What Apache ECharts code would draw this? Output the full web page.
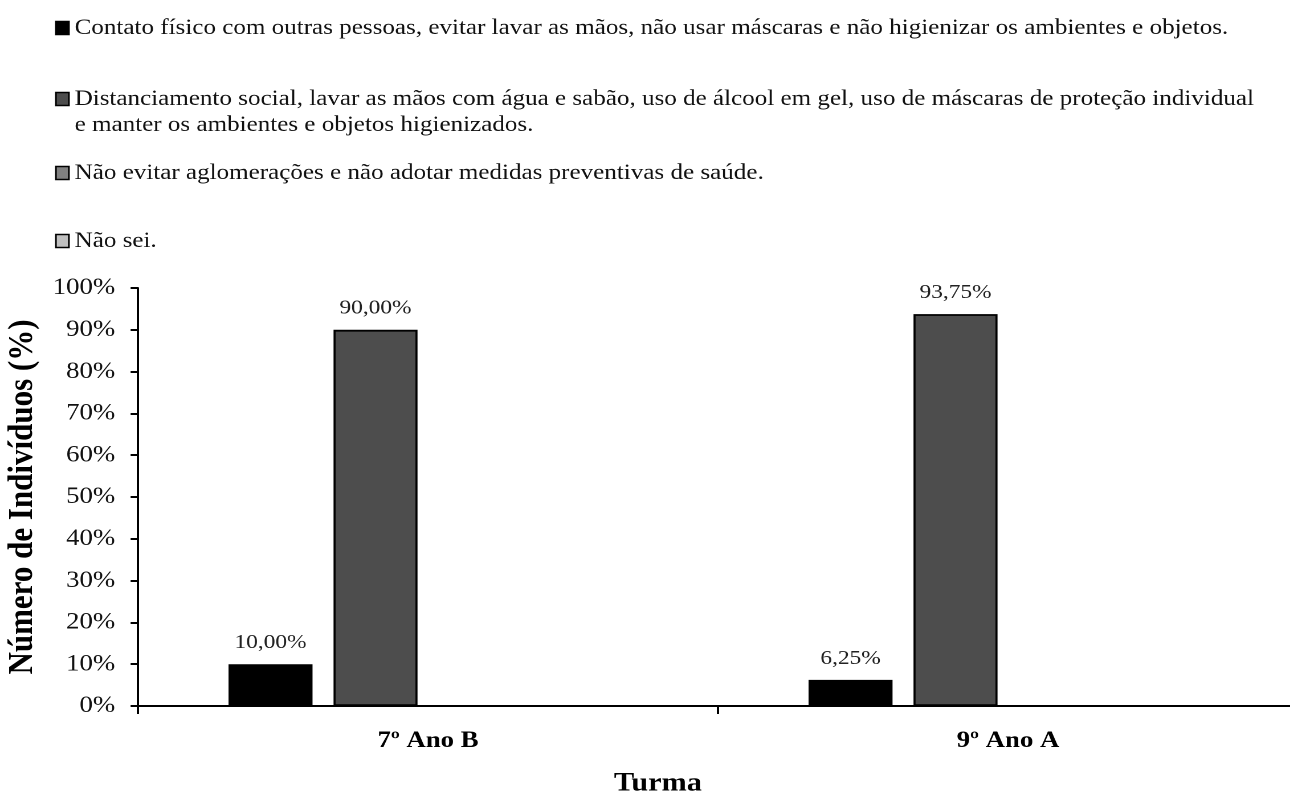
<!DOCTYPE html>
<html>
<head>
<meta charset="utf-8">
<script src="https://cdn.jsdelivr.net/npm/echarts@6/dist/echarts.min.js"></script>
<style>
  html, body { margin: 0; padding: 0; background: #fff; overflow: hidden; }
  /* the figure is drawn a little narrower and widened to the page width */
  #chart { width: 1132px; height: 797px; transform: scaleX(1.1396); transform-origin: 0 0; }
</style>
</head>
<body>
<div id="chart"></div>
<script>
// Turmas (categories on the x axis)
const turmas = ['7º Ano B', '9º Ano A'];

// Answer options (one bar series each)
const respostas = [
  'Contato físico com outras pessoas, evitar lavar as mãos, não usar máscaras e não higienizar os ambientes e objetos.',
  'Distanciamento social, lavar as mãos com água e sabão, uso de álcool em gel, uso de máscaras de proteção individual e manter os ambientes e objetos higienizados.',
  'Não evitar aglomerações e não adotar medidas preventivas de saúde.',
  'Não sei.'
];

// Percentage of students per answer, per turma
const contatoFisico = [10.00, 6.25];
const distanciamento = [90.00, 93.75];
const naoEvitar = [0, 0];
const naoSei = [0, 0];

// Y axis ticks (percent)
const yMin = 0, yMax = 100, yStep = 10;

const serieValues = [contatoFisico, distanciamento, naoEvitar, naoSei];
const fills = ['#000000', '#4d4d4d', '#808080', '#c0c0c0'];
const serif = '"Liberation Serif", "Times New Roman", serif';

const fmtPct = v => v.toFixed(2).replace('.', ',') + '%';

const series = serieValues.map((vals, i) => ({
  name: respostas[i],
  type: 'bar',
  data: vals,
  barWidth: 73.7,
  barGap: '25%',
  itemStyle: { color: fills[i], borderColor: '#000', borderWidth: 1.8 },
  label: {
    show: true,
    position: 'top',
    distance: 11,
    fontFamily: serif,
    fontSize: 20.5,
    color: '#222',
    formatter: p => (p.value > 0 ? fmtPct(p.value) : '')
  }
}));

// The second answer is long: break it in two lines, keeping the marker on the first one
const legendText = [
  '{name}',
  '\nDistanciamento social, lavar as mãos com água e sabão, uso de álcool em gel, uso de máscaras de proteção individual\ne manter os ambientes e objetos higienizados.',
  '{name}',
  '{name}'
];

// One legend block per answer so each sits at its own height
const legendTops = [15, 60, 160, 228];
const legends = respostas.map((name, i) => ({
  data: [name],
  orient: 'vertical',
  left: 48.3,
  top: legendTops[i],
  padding: 0,
  itemWidth: 11.4,
  itemHeight: 13,
  icon: 'rect',
  selectedMode: false,
  itemStyle: { borderColor: '#000', borderWidth: 1.5 },
  formatter: legendText[i],
  textStyle: { fontFamily: serif, fontSize: 22, color: '#111', lineHeight: 26 }
}));

const chart = echarts.init(document.getElementById('chart'), null, { renderer: 'canvas', devicePixelRatio: 2 });
chart.setOption({
  backgroundColor: '#fff',
  animation: false,
  legend: legends,
  grid: { left: 121.1, top: 288, width: 1017.9, height: 418, outerBoundsMode: 'none' },
  xAxis: {
    type: 'category',
    data: turmas,
    axisLine: { lineStyle: { color: '#000', width: 2 } },
    axisTick: { show: true, length: 8, lineStyle: { color: '#000', width: 2 } },
    axisLabel: {
      fontFamily: serif, fontSize: 23.5, fontWeight: 'bold', color: '#000', margin: 23
    }
  },
  yAxis: {
    type: 'value',
    min: yMin, max: yMax, interval: yStep,
    name: 'Número de Indivíduos (%)',
    nameLocation: 'middle',
    nameRotate: 90,
    nameGap: 77.5,
    nameTextStyle: { fontFamily: serif, fontSize: 31, fontWeight: 'bold', color: '#000' },
    axisLine: { show: true, lineStyle: { color: '#000', width: 2 } },
    axisTick: { show: true, length: 6.5, lineStyle: { color: '#000', width: 2 } },
    splitLine: { show: false },
    axisLabel: {
      fontFamily: serif, fontSize: 23.5, color: '#111', margin: 20,
      formatter: '{value}%'
    }
  },
  graphic: [{
    type: 'text',
    left: 538.8,
    top: 770,
    style: { text: 'Turma', font: 'bold 26.5px ' + serif, fill: '#000' }
  }],
  series: series
});
</script>
</body>
</html>
